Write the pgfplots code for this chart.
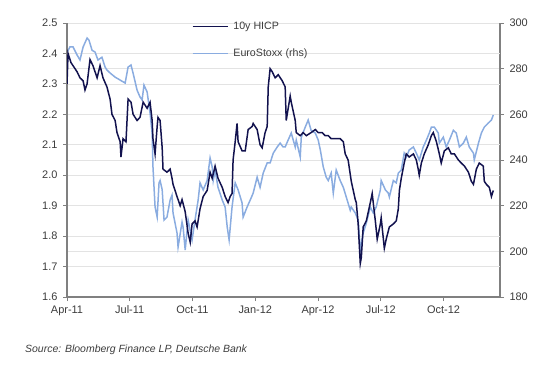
\documentclass[border=0pt]{standalone}
\usepackage{pgfplots}
\pgfplotsset{compat=1.18}
\usepackage{fontspec}
\setmainfont{Liberation Sans}
\definecolor{hicp}{RGB}{18,18,78}
\definecolor{stoxx}{RGB}{138,172,224}
\definecolor{axgray}{RGB}{128,128,128}
\definecolor{txtgray}{RGB}{60,60,60}
\begin{document}
\begin{tikzpicture}
\useasboundingbox (0,0) rectangle (560bp,365bp);
\pgfplotsset{
  common/.style={
    at={(67bp,68bp)}, anchor=south west,
    scale only axis, width=433bp, height=274bp,
    xmin=0, xmax=20.7,
    tick align=outside, major tick length=4bp,
    tick style={axgray, line width=0.8bp},
    axis line style={axgray, line width=1.6bp},
    ticklabel style={font=\fontsize{11}{13}\selectfont, text=txtgray},
    /pgf/number format/assume math mode=true,
  }
}
% right axis: EuroStoxx
\begin{axis}[common,
  axis y line*=right, axis x line=none,
  ymin=180, ymax=300, ytick={180,200,220,240,260,280,300},
  extra y ticks={193.333,206.667,233.333,246.667,273.333,286.667},
  extra y tick labels={},
  extra y tick style={major tick length=0pt, grid=major, grid style={gray!22, line width=0.6bp}},
  ymajorgrids, grid style={gray!22, line width=0.6bp},
  yticklabel style={xshift=2bp},
]
\addplot[stoxx, line width=1.5bp] coordinates {
(0.00,287) (0.14,289.5) (0.29,289.5) (0.48,286) (0.62,283.8) (0.77,289.5) (0.96,293.4) (1.05,292.5)
(1.20,288) (1.34,287.3) (1.48,283.8) (1.67,285) (1.82,280.7) (1.91,279.4) (2.06,278.1) (2.30,276.3)
(2.54,275) (2.78,273.7) (2.92,280.7) (3.06,281.6) (3.16,278) (3.35,270.6) (3.49,267.6) (3.59,266.3)
(3.68,272.8) (3.83,269.8) (3.97,260.6) (4.07,251.8) (4.11,237) (4.21,219.4) (4.31,215) (4.40,230)
(4.45,231) (4.55,227) (4.64,213.7) (4.78,215) (4.93,222.5) (5.02,224.6) (5.07,216.8) (5.26,208)
(5.31,201.9) (5.50,212.8) (5.55,210.6) (5.65,200.6) (5.79,213.7) (5.98,205) (6.12,213.7) (6.27,222.5)
(6.36,230) (6.51,226.9) (6.70,231) (6.84,240.9) (6.94,237) (6.99,231) (7.08,235.6) (7.22,228)
(7.42,222.5) (7.56,219.4) (7.66,210.6) (7.75,205) (7.89,219.4) (8.04,230) (8.18,226.9) (8.37,221.2)
(8.42,215) (8.61,219.4) (8.76,222.5) (8.90,225.5) (9.09,232.5) (9.23,228) (9.38,234.3) (9.57,238.7)
(9.71,238.7) (9.86,243) (10.05,245.7) (10.19,247.4) (10.33,245.7) (10.43,245.7) (10.57,248.7) (10.72,251.8)
(10.91,245.7) (10.96,248.7) (11.15,241.3) (11.20,250) (11.39,254.4) (11.53,257.5) (11.67,253) (11.87,251.8)
(12.01,248.7) (12.11,244.4) (12.25,237) (12.39,232.5) (12.49,231) (12.63,234.3) (12.73,225.5) (12.87,235.6)
(13.06,231) (13.21,228) (13.35,223.8) (13.54,218) (13.59,219.4) (13.78,216.8) (13.92,213.7) (14.02,200.6)
(14.16,208) (14.31,212.4) (14.50,219.4) (14.64,216.8) (14.78,219.4) (14.98,226.9) (15.02,231) (15.22,226.9)
(15.36,225.5) (15.41,223.8) (15.60,231) (15.74,230) (15.84,234.3) (15.98,235.6) (16.12,243) (16.22,241.3)
(16.36,244.4) (16.56,245.7) (16.70,243) (16.84,240) (17.03,245.7) (17.18,248.7) (17.32,251.8) (17.42,254.4)
(17.56,254.4) (17.75,251.8) (17.80,247.4) (17.99,250) (18.13,245.7) (18.28,248.7) (18.47,253) (18.61,251.8)
(18.76,245.7) (18.95,247.4) (19.09,250) (19.23,245.7) (19.43,243) (19.47,240) (19.67,247.4) (19.81,251.8)
(19.95,254.4) (20.14,256.2) (20.29,257.5) (20.38,259.7)
};
\end{axis}
% left axis: 10y HICP
\begin{axis}[common,
  axis y line*=left, axis x line*=bottom,
  ymin=1.6, ymax=2.5,
  ytick={1.6,1.7,1.8,1.9,2.0,2.1,2.2,2.3,2.4,2.5},
  yticklabel style={/pgf/number format/fixed, /pgf/number format/fixed zerofill, /pgf/number format/precision=1, xshift=-2bp},
  xtick={0,3,6,9,12,15,18},
  xticklabels={Apr-11,Jul-11,Oct-11,Jan-12,Apr-12,Jul-12,Oct-12},
  xticklabel style={yshift=-1bp},
  legend cell align=left,
  legend style={at={(rel axis cs:0.288,1.011)}, anchor=north west, draw=none, fill=none,
    font=\fontsize{10.7}{12}\selectfont, text=txtgray, row sep=14bp, inner sep=0pt},
  legend image code/.code={\draw[#1] (0bp,0bp) -- (35bp,0bp); \path (38bp,0bp);},
]
\addplot[hicp, line width=1.5bp] coordinates {
(0.00,2.30) (0.05,2.40) (0.19,2.37) (0.48,2.34) (0.62,2.32) (0.77,2.31) (0.86,2.28) (0.96,2.30)
(1.10,2.38) (1.24,2.36) (1.44,2.32) (1.58,2.36) (1.72,2.32) (1.91,2.29) (2.06,2.25) (2.15,2.20)
(2.30,2.18) (2.39,2.14) (2.54,2.11) (2.58,2.06) (2.68,2.12) (2.82,2.11) (2.92,2.25) (3.06,2.24)
(3.16,2.20) (3.35,2.18) (3.49,2.19) (3.64,2.24) (3.83,2.22) (3.97,2.24) (4.07,2.18) (4.11,2.12)
(4.21,2.07) (4.31,2.16) (4.35,2.19) (4.45,2.18) (4.55,2.09) (4.59,2.02) (4.78,2.01) (4.93,2.02)
(5.02,1.99) (5.07,1.97) (5.26,1.93) (5.41,1.90) (5.50,1.92) (5.65,1.88) (5.79,1.81) (5.89,1.78)
(5.98,1.84) (6.12,1.85) (6.22,1.83) (6.36,1.89) (6.51,1.93) (6.70,1.95) (6.84,2.01) (6.94,1.99)
(7.08,2.03) (7.22,1.99) (7.42,1.96) (7.56,1.93) (7.70,1.91) (7.80,1.93) (7.89,1.94) (7.94,2.05)
(8.04,2.11) (8.13,2.17) (8.18,2.11) (8.37,2.08) (8.52,2.08) (8.66,2.15) (8.85,2.16) (8.90,2.17)
(9.09,2.15) (9.23,2.10) (9.33,2.09) (9.47,2.14) (9.57,2.16) (9.62,2.29) (9.71,2.35) (9.81,2.34)
(9.95,2.32) (10.10,2.33) (10.29,2.31) (10.43,2.29) (10.48,2.18) (10.67,2.26) (10.72,2.24) (10.91,2.18)
(10.96,2.14) (11.15,2.13) (11.29,2.14) (11.44,2.13) (11.67,2.14) (11.87,2.15) (12.01,2.14) (12.20,2.14)
(12.34,2.13) (12.49,2.13) (12.63,2.12) (12.87,2.12) (13.06,2.12) (13.21,2.11) (13.30,2.07) (13.44,2.05)
(13.59,1.98) (13.78,1.92) (13.83,1.91) (13.92,1.84) (14.02,1.71) (14.07,1.73) (14.16,1.83) (14.31,1.85)
(14.50,1.91) (14.59,1.94) (14.74,1.85) (14.83,1.79) (14.98,1.84) (15.02,1.86) (15.17,1.76) (15.26,1.79)
(15.41,1.83) (15.60,1.84) (15.74,1.85) (15.84,1.89) (15.89,1.95) (15.98,1.99) (16.12,2.04) (16.22,2.07)
(16.36,2.06) (16.56,2.07) (16.70,2.05) (16.79,2.02) (16.84,2.00) (16.94,2.04) (17.08,2.07) (17.27,2.10)
(17.42,2.13) (17.51,2.14) (17.66,2.11) (17.80,2.07) (17.89,2.04) (18.04,2.08) (18.23,2.09) (18.37,2.07)
(18.52,2.07) (18.71,2.05) (18.85,2.04) (19.00,2.03) (19.19,2.01) (19.33,1.98) (19.43,1.97) (19.57,2.02)
(19.71,2.04) (19.90,2.03) (19.95,1.98) (20.05,1.97) (20.19,1.96) (20.29,1.93) (20.38,1.95)
};
\addlegendentry{10y HICP}
\addlegendimage{stoxx, line width=1.5bp}
\addlegendentry{EuroStoxx (rhs)}
\end{axis}
\node[anchor=west, inner sep=0pt, font=\itshape\fontsize{10.5}{12}\selectfont, text=txtgray] at (25bp,15bp) {Source: Bloomberg Finance LP, Deutsche Bank};
\end{tikzpicture}
\end{document}
